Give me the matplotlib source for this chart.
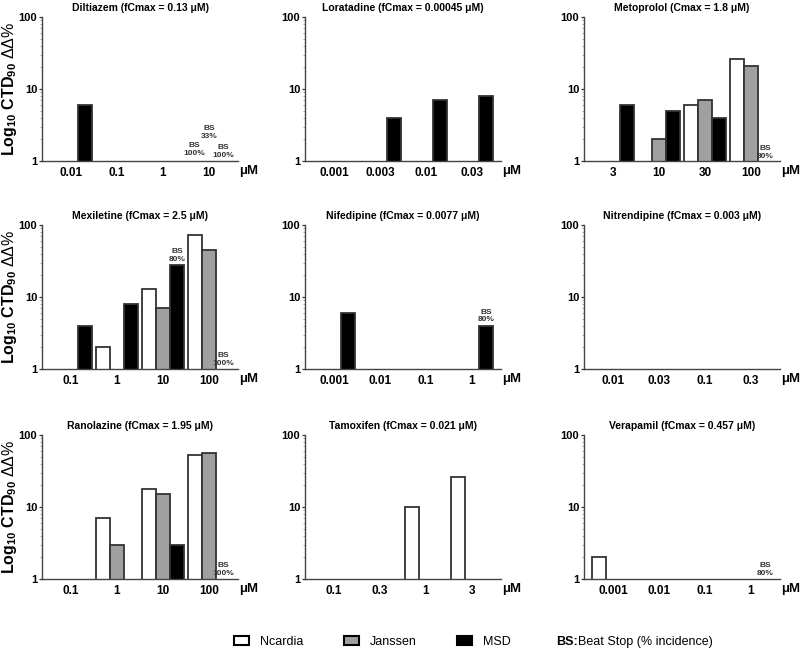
import numpy as np
import matplotlib
matplotlib.use('Agg')
import matplotlib.pyplot as plt
from matplotlib.patches import Patch
from matplotlib.ticker import LogLocator, FixedLocator, NullFormatter

plt.rcParams['font.family'] = ['Liberation Sans', 'DejaVu Sans']
plt.rcParams['mathtext.fontset'] = 'custom'
plt.rcParams['mathtext.rm'] = 'Liberation Sans'
plt.rcParams['mathtext.bf'] = 'Liberation Sans:bold'
plt.rcParams['mathtext.it'] = 'Liberation Sans:italic'

nan = np.nan
series = ['Ncardia', 'Janssen', 'MSD']
series_colors = ['white', '#a0a0a0', 'black']

titles = [
    'Diltiazem (fCmax = 0.13 μM)', 'Loratadine (fCmax = 0.00045 μM)', 'Metoprolol (Cmax = 1.8 μM)',
    'Mexiletine (fCmax = 2.5 μM)', 'Nifedipine (fCmax = 0.0077 μM)', 'Nitrendipine (fCmax = 0.003 μM)',
    'Ranolazine (fCmax = 1.95 μM)', 'Tamoxifen (fCmax = 0.021 μM)', 'Verapamil (fCmax = 0.457 μM)',
]

conc_labels = [
    ['0.01', '0.1', '1', '10'],
    ['0.001', '0.003', '0.01', '0.03'],
    ['3', '10', '30', '100'],
    ['0.1', '1', '10', '100'],
    ['0.001', '0.01', '0.1', '1'],
    ['0.01', '0.03', '0.1', '0.3'],
    ['0.1', '1', '10', '100'],
    ['0.1', '0.3', '1', '3'],
    ['0.001', '0.01', '0.1', '1'],
]

ncardia = [
    [nan, nan, nan, nan],
    [nan, nan, nan, nan],
    [nan, nan, 6, 26],
    [nan, 2, 13, 72],
    [nan, nan, nan, nan],
    [nan, nan, nan, nan],
    [nan, 7, 18, 53],
    [nan, nan, 10, 26],
    [2, nan, nan, nan],
]

janssen = [
    [nan, nan, nan, nan],
    [nan, nan, nan, nan],
    [nan, 2, 7, 21],
    [nan, nan, 7, 45],
    [nan, nan, nan, nan],
    [nan, nan, nan, nan],
    [nan, 3, 15, 56],
    [nan, nan, nan, nan],
    [nan, nan, nan, nan],
]

msd = [
    [6, nan, nan, nan],
    [nan, 4, 7, 8],
    [6, 5, 4, nan],
    [4, 8, 28, nan],
    [6, nan, nan, 4],
    [nan, nan, nan, nan],
    [nan, nan, 3, nan],
    [nan, nan, nan, nan],
    [nan, nan, nan, nan],
]

# beat-stop notes: (panel, group, series index, y of text bottom, text)
bs_panel = [0, 0, 0, 2, 3, 3, 4, 6, 8]
bs_group = [3, 3, 3, 3, 2, 3, 3, 3, 3]
bs_series = [0, 1, 2, 2, 2, 2, 2, 2, 2]
bs_y = [1.15, 1.95, 1.07, 1.04, 30, 1.07, 4.3, 1.07, 1.07]
bs_text = ['BS\n100%', 'BS\n33%', 'BS\n100%', 'BS\n80%', 'BS\n80%', 'BS\n100%',
           'BS\n80%', 'BS\n100%', 'BS\n80%']

W, H = 800, 661
fig = plt.figure(figsize=(W / 100, H / 100), dpi=100)

col_left = [42, 305, 584]
col_w = 196
row_top = [17, 225, 435]
row_h = 144

bar_w = 0.31
offsets = [-bar_w, 0, bar_w]
edge = '#333333'

axes = []
for i in range(9):
    r, c = divmod(i, 3)
    ax = fig.add_axes([col_left[c] / W, 1 - (row_top[r] + row_h) / H, col_w / W, row_h / H])
    axes.append(ax)
    ax.set_yscale('log')
    x = np.arange(len(conc_labels[i]))
    for s, data in enumerate([ncardia[i], janssen[i], msd[i]]):
        vals = np.array(data, dtype=float)
        m = ~np.isnan(vals)
        if m.any():
            ax.bar(x[m] + offsets[s], vals[m], width=bar_w, color=series_colors[s],
                   edgecolor=edge, linewidth=1.3, align='center', zorder=2)
    ax.set_ylim(1, 100)
    ax.set_xlim(-0.63, len(x) - 1 + 0.63)
    ax.set_xticks(x)
    ax.set_xticklabels(conc_labels[i], fontsize=8.5, fontweight='bold')
    ax.tick_params(axis='x', length=0, pad=4)
    ax.yaxis.set_major_locator(FixedLocator([1, 10, 100]))
    ax.set_yticklabels(['1', '10', '100'], fontsize=8, fontweight='bold')
    ax.yaxis.set_minor_locator(LogLocator(base=10, subs=np.arange(2, 10)))
    ax.yaxis.set_minor_formatter(NullFormatter())
    ax.tick_params(axis='y', which='major', length=2.5, width=0.9, pad=1, color=edge)
    ax.tick_params(axis='y', which='minor', length=1.2, width=0.5, color='#888888')
    for sp in ['top', 'right']:
        ax.spines[sp].set_visible(False)
    for sp in ['left', 'bottom']:
        ax.spines[sp].set_color('#444444')
        ax.spines[sp].set_linewidth(1.0)
    ax.set_title(titles[i], fontsize=7.5, fontweight='bold', pad=4.5)
    ax.text(1.005, -0.07, 'μM', transform=ax.transAxes, fontsize=9.5, fontweight='bold',
            ha='left', va='center')
    if c == 0:
        yc = 1 - (row_top[r] + row_h / 2) / H
        fig.text(10 / W, yc, r'$\mathbf{Log_{10}\ CTD_{90}}$ ΔΔ%', fontsize=11.5,
                 rotation=90, ha='center', va='center')

for p, g, s, y, t in zip(bs_panel, bs_group, bs_series, bs_y, bs_text):
    axes[p].text(g + offsets[s], y, t, fontsize=6, fontweight='bold', color='#333333',
                 ha='center', va='bottom', linespacing=1.15, zorder=3)

handles = [Patch(facecolor=series_colors[s], edgecolor='black', linewidth=1.5) for s in range(3)]
fig.legend(handles, series, loc='center left', bbox_to_anchor=(234 / W, 1 - 642 / H),
           ncol=3, frameon=False, fontsize=9, handlelength=1.2, handleheight=0.7,
           handletextpad=0.9, columnspacing=3.2, borderpad=0, borderaxespad=0)
fig.text(556 / W, 1 - 642 / H, 'BS:', fontsize=9, fontweight='bold', ha='left', va='center')
fig.text(578 / W, 1 - 642 / H, 'Beat Stop (% incidence)', fontsize=9, ha='left', va='center')

fig.savefig('out.png', dpi=100)
